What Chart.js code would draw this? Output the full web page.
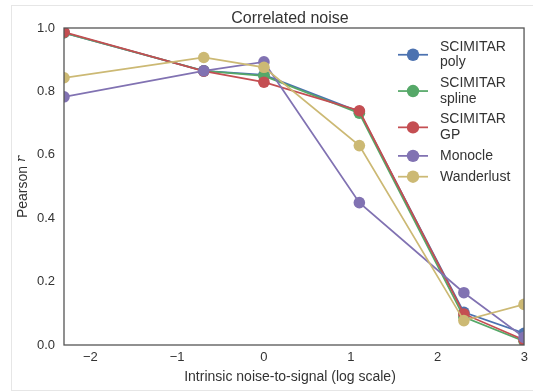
<!DOCTYPE html>
<html>
<head>
<meta charset="utf-8">
<script src="https://cdn.jsdelivr.net/npm/chart.js@4.4.1/dist/chart.umd.min.js"></script>
<style>
  html, body { margin: 0; padding: 0; background: #fff; }
  #wrap { position: relative; width: 533px; height: 392px; overflow: hidden; }
  #frame { position: absolute; left: 11px; top: 5px; width: 600px; height: 384px; border: 1px solid #e6e6e6; }
  canvas { position: absolute; left: 0; top: 0; }
</style>
</head>
<body>
<div id="wrap">
  <div id="frame"></div>
  <canvas id="noiseChart" width="533" height="392"></canvas>
</div>
<script>
// x positions: log of intrinsic noise-to-signal ratio
const noiseLog = [-2.303, -0.693, 0, 1.099, 2.303, 2.996];
const xTicks = [-2, -1, 0, 1, 2, 3];
const yTicks = [0, 0.2, 0.4, 0.6, 0.8, 1.0];

const scimitarPoly   = [0.985, 0.865, 0.852, 0.736, 0.103, 0.037];
const scimitarSpline = [0.985, 0.865, 0.849, 0.731, 0.088, 0.012];
const scimitarGP     = [0.987, 0.864, 0.829, 0.739, 0.098, 0.016];
const monocle        = [0.783, 0.865, 0.893, 0.449, 0.165, 0.024];
const wanderlust     = [0.843, 0.907, 0.876, 0.629, 0.077, 0.128];

const seriesNames = [['SCIMITAR', 'poly'], ['SCIMITAR', 'spline'], ['SCIMITAR', 'GP'], ['Monocle'], ['Wanderlust']];
const seriesValues = [scimitarPoly, scimitarSpline, scimitarGP, monocle, wanderlust];
const colors = ['#4C72B0', '#55A868', '#C44E52', '#8172B2', '#CCB974'];

const FONT = '"Liberation Sans", Arial, sans-serif';
const TEXT = '#333333';

const datasets = seriesValues.map((vals, i) => ({
  label: seriesNames[i].join(' '),
  data: vals.map((v, j) => ({ x: noiseLog[j], y: v })),
  borderColor: colors[i],
  backgroundColor: colors[i],
  borderWidth: 1.75,
  pointRadius: 5.8,
  pointBorderWidth: 0,
  pointHoverRadius: 5.8,
  order: seriesValues.length - i  // later series drawn on top, like matplotlib
}));

// frame, titles and the in-plot legend
const decorations = {
  id: 'decorations',
  afterDatasetsDraw(chart) {
    const ctx = chart.ctx;
    const a = chart.chartArea;
    ctx.save();
    ctx.strokeStyle = '#555555';
    ctx.lineWidth = 1.3;
    ctx.strokeRect(a.left, a.top, a.right - a.left, a.bottom - a.top);

    ctx.fillStyle = TEXT;
    ctx.textAlign = 'center';
    ctx.textBaseline = 'middle';
    ctx.font = '16px ' + FONT;
    ctx.fillText('Correlated noise', 290, 19);

    ctx.font = '14px ' + FONT;
    ctx.fillText('Intrinsic noise-to-signal (log scale)', 290, 377);

    // y title with italic r
    ctx.save();
    ctx.translate(23, 187);
    ctx.rotate(-Math.PI / 2);
    ctx.textAlign = 'left';
    const base = 'Pearson ';
    ctx.font = '14px ' + FONT;
    const w1 = ctx.measureText(base).width;
    ctx.font = 'italic 13px "DejaVu Serif", serif';
    const w2 = ctx.measureText('r').width;
    const start = -(w1 + w2) / 2;
    ctx.font = '14px ' + FONT;
    ctx.fillText(base, start, 0);
    ctx.font = 'italic 13px "DejaVu Serif", serif';
    ctx.fillText('r', start + w1, -1);
    ctx.restore();

    // legend
    ctx.font = '14px ' + FONT;
    ctx.textAlign = 'left';
    let y = 47;
    const lineH = 15.5;
    seriesNames.forEach((lines, i) => {
      const midY = y + (lines.length - 1) * lineH / 2;
      ctx.strokeStyle = colors[i];
      ctx.lineWidth = 1.75;
      ctx.beginPath();
      ctx.moveTo(398, midY);
      ctx.lineTo(428, midY);
      ctx.stroke();
      ctx.fillStyle = colors[i];
      ctx.beginPath();
      ctx.arc(413, midY, 6.2, 0, Math.PI * 2);
      ctx.fill();
      ctx.fillStyle = TEXT;
      lines.forEach((t, k) => ctx.fillText(t, 440, y + k * lineH));
      y += (lines.length - 1) * lineH + 20.8;
    });
    ctx.restore();
  }
};

new Chart(document.getElementById('noiseChart').getContext('2d'), {
  type: 'line',
  data: { datasets: datasets },
  options: {
    responsive: false,
    animation: false,
    layout: { padding: { top: 28, right: 6.5, left: 0, bottom: 0 } },
    plugins: { legend: { display: false }, tooltip: { enabled: false }, title: { display: false } },
    scales: {
      x: {
        type: 'linear',
        min: -2.303,
        max: 2.996,
        afterBuildTicks: s => { s.ticks = xTicks.map(v => ({ value: v })); },
        afterFit: s => { s.height = 47; },
        grid: { display: false, drawTicks: false },
        border: { display: false },
        ticks: {
          padding: 5,
          color: TEXT,
          font: { family: FONT, size: 13 },
          callback: v => (v < 0 ? '\u2212' + Math.abs(v) : String(v))
        }
      },
      y: {
        min: 0,
        max: 1.0,
        afterBuildTicks: s => { s.ticks = yTicks.map(v => ({ value: v })); },
        afterFit: s => { s.width = 64; },
        grid: { display: false, drawTicks: false },
        border: { display: false },
        ticks: {
          padding: 9,
          color: TEXT,
          font: { family: FONT, size: 13 },
          callback: v => v.toFixed(1)
        }
      }
    }
  },
  plugins: [decorations]
});
</script>
</body>
</html>
